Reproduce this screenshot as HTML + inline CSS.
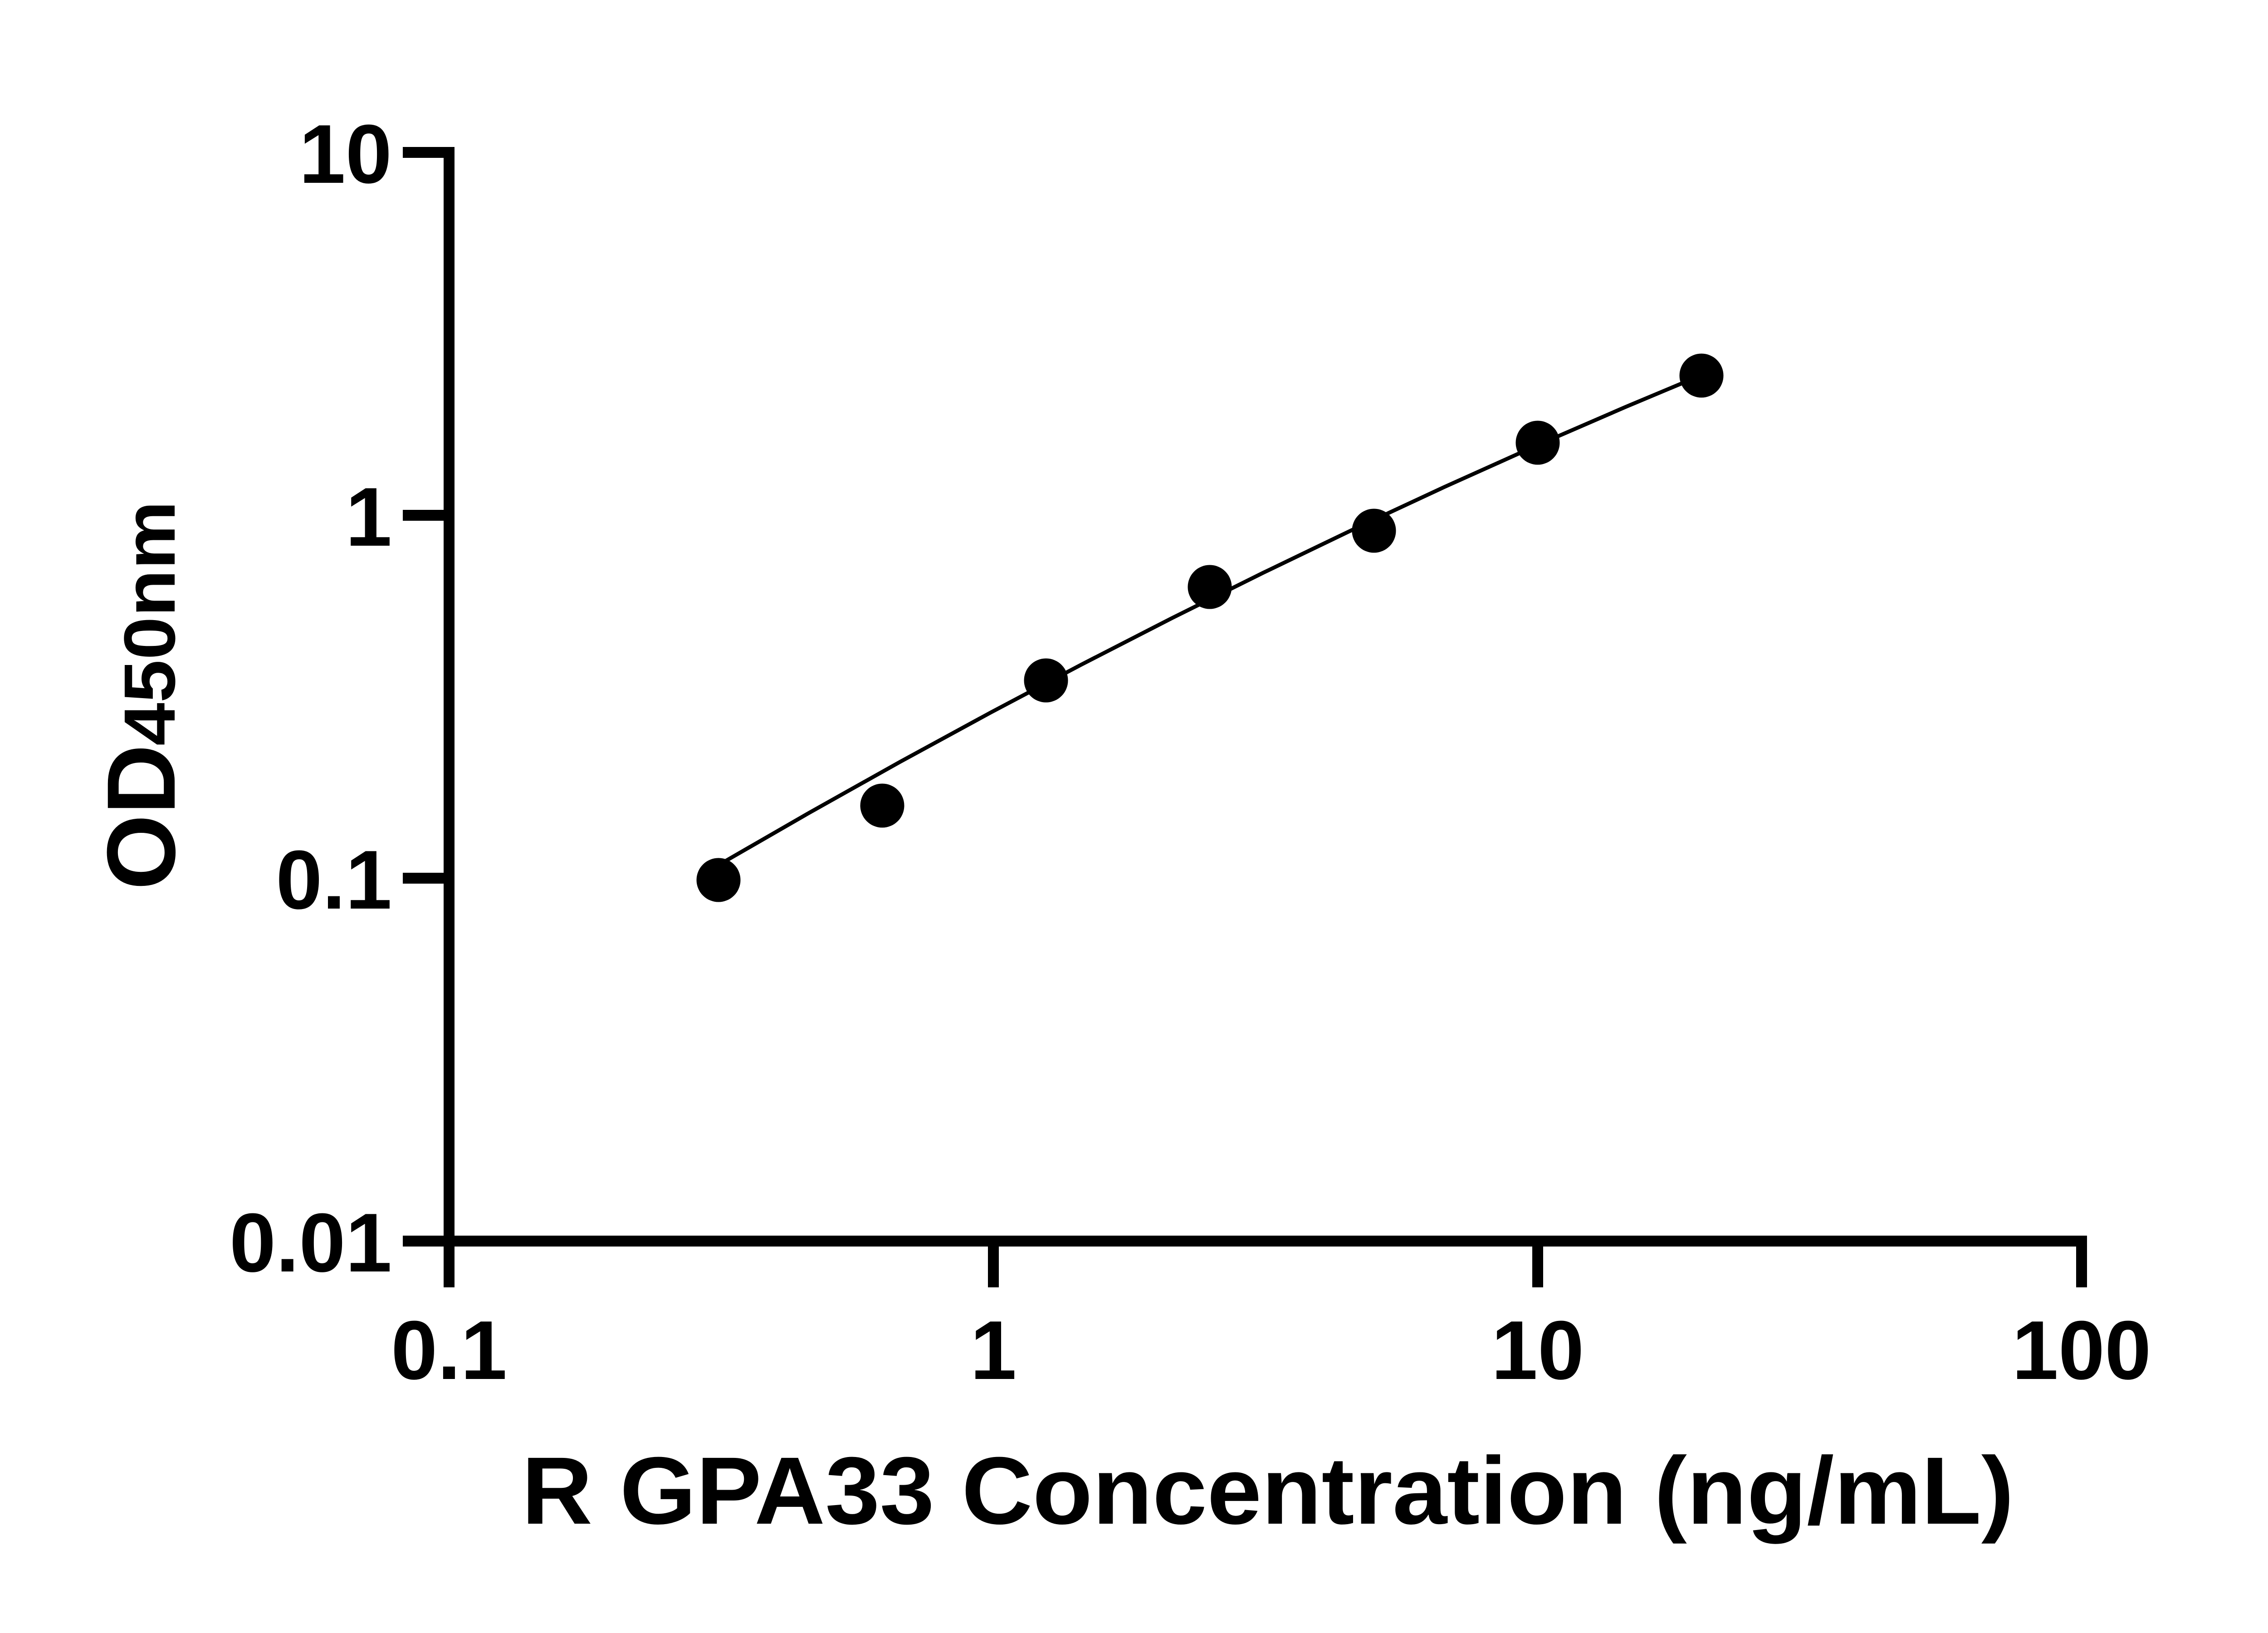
<!DOCTYPE html>
<html>
<head>
<meta charset="utf-8">
<style>
  html, body { margin: 0; padding: 0; background: #ffffff; }
  body { width: 5142px; height: 3600px; overflow: hidden; }
  svg { display: block; }
  text { font-family: "Liberation Sans", Arial, sans-serif; font-weight: bold; fill: #000; }
</style>
</head>
<body>
<svg xmlns="http://www.w3.org/2000/svg" width="5142" height="3600" viewBox="0 0 5142 3600">
  <rect x="0" y="0" width="5142" height="3600" fill="#ffffff"/>

  <!-- Y axis -->
  <rect x="978" y="324" width="24" height="2514" fill="#000"/>
  <!-- X axis -->
  <rect x="978" y="2724" width="3623" height="24" fill="#000"/>

  <!-- Y ticks -->
  <rect x="888" y="324" width="114" height="24" fill="#000"/>
  <rect x="888" y="1124" width="114" height="24" fill="#000"/>
  <rect x="888" y="1924" width="114" height="24" fill="#000"/>
  <rect x="888" y="2724" width="114" height="24" fill="#000"/>

  <!-- X ticks -->
  <rect x="978" y="2724" width="24" height="114" fill="#000"/>
  <rect x="2178" y="2724" width="24" height="114" fill="#000"/>
  <rect x="3378" y="2724" width="24" height="114" fill="#000"/>
  <rect x="4577" y="2724" width="24" height="114" fill="#000"/>

  <!-- Y tick labels -->
  <g font-size="184" text-anchor="end">
    <text x="864" y="403">10</text>
    <text x="864" y="1203">1</text>
    <text x="864" y="2003">0.1</text>
    <text x="864" y="2803">0.01</text>
  </g>

  <!-- X tick labels -->
  <g font-size="184" text-anchor="middle">
    <text x="990" y="3040">0.1</text>
    <text x="2190" y="3040">1</text>
    <text x="3390" y="3040">10</text>
    <text x="4589" y="3040">100</text>
  </g>

  <!-- Y axis title -->
  <g transform="translate(385,1962) rotate(-90)">
    <text x="0" y="0" font-size="214">OD</text>
    <text x="318" y="0" font-size="160" textLength="540" lengthAdjust="spacingAndGlyphs">450nm</text>
  </g>

  <!-- X axis title -->
  <text x="1150" y="3359" font-size="211" textLength="3290" lengthAdjust="spacingAndGlyphs">R GPA33 Concentration (ng/mL)</text>

  <!-- Fitted curve -->
  <polyline fill="none" stroke="#000" stroke-width="8.5" stroke-linejoin="round" stroke-linecap="round"
    points="1584,1907 1784,1791.8 1984,1679.7 2184,1570.8 2384,1465.1 2584,1362.5 2784,1263.1 2984,1166.8 3184,1073.7 3384,983.8 3584,897 3750,827.4"/>

  <!-- Data points -->
  <g fill="#000">
    <circle cx="1584" cy="1940" r="48.5"/>
    <circle cx="1945" cy="1776" r="48.5"/>
    <circle cx="2306" cy="1500" r="48.5"/>
    <circle cx="2667" cy="1294" r="48.5"/>
    <circle cx="3029" cy="1170" r="48.5"/>
    <circle cx="3390" cy="976" r="48.5"/>
    <circle cx="3751" cy="828" r="48.5"/>
  </g>
</svg>
</body>
</html>
